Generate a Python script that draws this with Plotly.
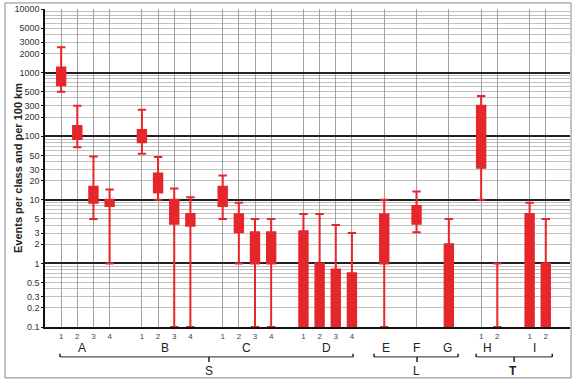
import plotly.graph_objects as go

# ---- data ----
groups = ["A", "A", "A", "A", "B", "B", "B", "B", "C", "C", "C", "C",
          "D", "D", "D", "D", "E", "F", "G", "H", "H", "I", "I"]
subclass = ["1", "2", "3", "4", "1", "2", "3", "4", "1", "2", "3", "4",
            "1", "2", "3", "4", "", "", "", "1", "2", "1", "2"]
whisker_high = [2500, 300, 48, 14.5, 260, 47, 15, 11, 24, 9, 5, 5,
                6, 6, 4, 3, 10, 13.5, 5, 430, 1, 9, 5]
box_high = [1200, 145, 16, 10, 125, 26, 10, 6, 16, 5.9, 3.1, 3.1,
            3.2, 1, 0.8, 0.7, 5.9, 8, 2, 300, 1, 6, 1]
box_low = [630, 90, 9, 8, 80, 13, 4.2, 3.9, 8, 3.1, 1, 1,
           0.1, 0.1, 0.1, 0.1, 1, 4.2, 0.1, 32, 1, 0.1, 0.1]
whisker_low = [500, 67, 5, 1, 53, 10, 0.1, 0.1, 5, 1, 0.1, 0.1,
               0.1, 0.1, 0.1, 0.1, 0.1, 3.1, 0.1, 10, 0.1, 0.1, 0.1]

y_tick_values = [0.1, 0.2, 0.3, 0.5, 1, 2, 3, 5, 10, 20, 30, 50, 100, 200, 300, 500,
                 1000, 2000, 3000, 5000, 10000]
y_tick_text = ["0.1", "0.2", "0.3", "0.5", "1", "2", "3", "5", "10", "20", "30", "50",
               "100", "200", "300", "500", "1000", "2000", "3000", "5000", "10000"]
decades = [0.1, 1, 10, 100, 1000, 10000]
minor_values = [m * d for d in [0.1, 1, 10, 100, 1000] for m in range(2, 10)]
y_title = "Events per class and per 100 km"

# ---- layout of the categories along x ----
positions = [1, 2, 3, 4, 6, 7, 8, 9, 11, 12, 13, 14, 16, 17, 18, 19,
             21, 23, 25, 27, 28, 30, 31]

RED = "#e5262a"
FONT = "Liberation Sans, Arial, sans-serif"

fig = go.Figure()
fig.add_trace(go.Box(
    x=positions,
    q1=box_low, median=box_high, q3=box_high,
    lowerfence=whisker_low, upperfence=whisker_high,
    width=0.52, whiskerwidth=1,
    fillcolor=RED, line=dict(color=RED, width=2),
    boxpoints=False, hoverinfo="skip", showlegend=False,
    yaxis="y",
))
# helper trace so the decade-grid axis is drawn
fig.add_trace(go.Scatter(x=[positions[0]], y=[1], yaxis="y2", mode="markers",
                         marker=dict(opacity=0), hoverinfo="skip", showlegend=False))

# group letters
letter_pos = {"A": 2.3, "B": 7.4, "C": 12.5, "D": 17.4, "E": 21.1, "F": 23.0,
              "G": 24.9, "H": 27.4, "I": 30.3}
annotations = []
for g, xp in letter_pos.items():
    annotations.append(dict(x=xp, y=-0.066, xref="x", yref="paper", text=g,
                            showarrow=False, font=dict(family=FONT, size=12, color="#222"),
                            xanchor="center", yanchor="middle"))
for g, xp in [("S", 10.15), ("L", 23.0), ("T", 29.0)]:
    annotations.append(dict(x=xp, y=-0.138, xref="x", yref="paper",
                            text="<b>" + g + "</b>" if g == "T" else g,
                            showarrow=False, font=dict(family=FONT, size=12, color="#222"),
                            xanchor="center", yanchor="middle"))
# y-axis title
annotations.append(dict(x=-0.0514, y=0.5, xref="paper", yref="paper",
                        text="<b>" + y_title + "</b>", textangle=-90, showarrow=False,
                        font=dict(family=FONT, size=11, color="#222"),
                        xanchor="center", yanchor="middle"))

shapes = []
by = -0.094
for x0, x1, xm in [(0.93, 19.07, 10.15), (20.37, 25.57, 23.03), (26.69, 31.4, 29.04)]:
    shapes.append(dict(type="line", xref="x", yref="paper", x0=x0, x1=x1, y0=by, y1=by,
                       line=dict(color="#222", width=1)))
    for xe in (x0, x1):
        shapes.append(dict(type="line", xref="x", yref="paper", x0=xe, x1=xe, y0=by, y1=by + 0.01,
                           line=dict(color="#222", width=1.5)))
    shapes.append(dict(type="line", xref="x", yref="paper", x0=xm, x1=xm, y0=by, y1=by - 0.016,
                       line=dict(color="#222", width=1.5)))
# outer frame
shapes.append(dict(type="rect", xref="paper", yref="paper", x0=-0.0762, x1=1.002,
                   y0=-0.160, y1=1.019, line=dict(color="#888", width=1)))

fig.update_layout(
    width=572, height=380,
    margin=dict(l=45, r=2, t=9, b=53, autoexpand=False),
    paper_bgcolor="white", plot_bgcolor="white",
    font=dict(family=FONT, size=9, color="#333"),
    xaxis=dict(
        range=[0, 32.5], tickmode="array", tickvals=positions, ticktext=subclass,
        showgrid=True, gridcolor="#a0a0a0", gridwidth=1,
        showline=True, linecolor="#111", linewidth=2, ticks="",
        tickfont=dict(size=8, color="#444"), zeroline=False, fixedrange=True,
        automargin=False,
    ),
    yaxis=dict(
        type="log", range=[-1, 4], tickmode="array", tickvals=y_tick_values, ticktext=y_tick_text,
        showgrid=False, showline=True, linecolor="#111", linewidth=1.5,
        ticks="outside", ticklen=2, tickcolor="#111",
        tickfont=dict(size=9, color="#333"), automargin=False,
        minor=dict(tickmode="array", tickvals=minor_values, showgrid=True,
                   gridcolor="#c0c0c0", gridwidth=1, ticks=""),
    ),
    yaxis2=dict(
        type="log", range=[-1, 4], overlaying="y", side="left", automargin=False,
        tickmode="array", tickvals=decades, showticklabels=False, ticks="",
        showgrid=True, gridcolor="#222", gridwidth=1.6, showline=False, zeroline=False,
    ),
    annotations=annotations,
    shapes=shapes,
)

fig.write_html("out.html", config={"displayModeBar": False},
               post_script="document.body.style.margin='0px';document.body.style.overflow='hidden';")
